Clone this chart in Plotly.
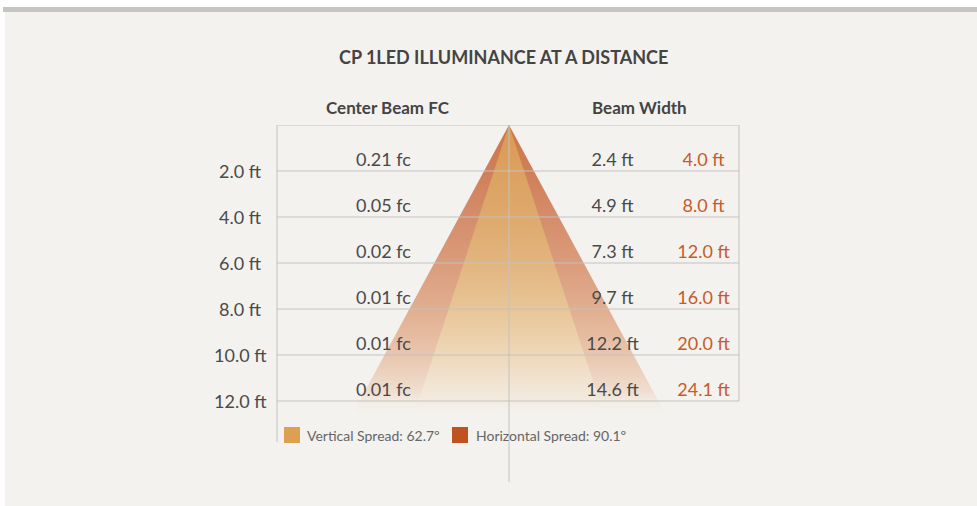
import plotly.graph_objects as go

# ---- data ----
distances_ft = [2, 4, 6, 8, 10, 12]
distance_labels = ["2.0 ft", "4.0 ft", "6.0 ft", "8.0 ft", "10.0 ft", "12.0 ft"]
center_beam_fc = [0.21, 0.05, 0.02, 0.01, 0.01, 0.01]
vertical_width_ft = [2.4, 4.9, 7.3, 9.7, 12.2, 14.6]
horizontal_width_ft = [4.0, 8.0, 12.0, 16.0, 20.0, 24.1]
vertical_spread_deg = 62.7
horizontal_spread_deg = 90.1
title_text = "CP 1LED ILLUMINANCE AT A DISTANCE"

# ---- layout constants ----
W, H = 977, 506
BG = "#f3f2ee"
GRID = "#c2c2c2"
TXT = "#4a4a4a"
ORANGE_TXT = "#c85a2a"
FONT = "Lato"

# pixel geometry helpers (paper coords)
def px(x):
    return x / W

def py(y):
    return (H - y) / H

k = 12.4  # px per ft of half beam width
x_left_px, x_center_px, x_right_px = 277, 509, 739
y_top_px, y_bottom_px = 125, 482
px_per_ft_y = 23.0

x_range = [-(x_center_px - x_left_px) / k, (x_right_px - x_center_px) / k]
y_range = [(y_bottom_px - y_top_px) / px_per_ft_y, 0]

D_end = 12.5  # cone fades out just past the last distance

fig = go.Figure()

def cone(widths, stops):
    half_per_ft = widths[-1] / distances_ft[-1] / 2
    hw = half_per_ft * D_end
    return go.Scatter(
        x=[0, -hw, hw, 0], y=[0, D_end, D_end, 0],
        mode="lines", line=dict(width=0), fill="toself",
        fillgradient=dict(type="vertical", colorscale=stops, start=0, stop=D_end),
        hoverinfo="skip", showlegend=False,
    )

outer_stops = [
    [0.0, "rgba(205,117,74,1)"],
    [0.16, "rgba(208,127,88,1)"],
    [0.32, "rgba(213,141,106,1)"],
    [0.48, "rgba(218,156,123,1)"],
    [0.64, "rgba(225,174,144,1)"],
    [0.80, "rgba(233,198,174,1)"],
    [0.93, "rgba(240,223,209,1)"],
    [1.0, "rgba(243,240,236,0.2)"],
]
inner_stops = [
    [0.0, "rgba(218,153,86,1)"],
    [0.16, "rgba(220,161,96,1)"],
    [0.32, "rgba(222,169,108,1)"],
    [0.48, "rgba(226,181,127,1)"],
    [0.64, "rgba(232,197,151,1)"],
    [0.80, "rgba(238,216,185,1)"],
    [0.93, "rgba(242,232,218,1)"],
    [1.0, "rgba(243,240,236,0.2)"],
]
fig.add_trace(cone(horizontal_width_ft, outer_stops))
fig.add_trace(cone(vertical_width_ft, inner_stops))

text_y = [d - 0.43 for d in distances_ft]
font_val = dict(family=FONT, size=18, color=TXT)
fig.add_trace(go.Scatter(
    x=[(383.5 - x_center_px) / k] * len(distances_ft), y=text_y, mode="text",
    text=[f"{v:.2f} fc" for v in center_beam_fc], textfont=font_val,
    textposition="middle center", hoverinfo="skip", showlegend=False))
fig.add_trace(go.Scatter(
    x=[(612.5 - x_center_px) / k] * len(distances_ft), y=text_y, mode="text",
    text=[f"{v:.1f} ft" for v in vertical_width_ft], textfont=font_val,
    textposition="middle center", hoverinfo="skip", showlegend=False))
fig.add_trace(go.Scatter(
    x=[(703.5 - x_center_px) / k] * len(distances_ft), y=text_y, mode="text",
    text=[f"{v:.1f} ft" for v in horizontal_width_ft],
    textfont=dict(family=FONT, size=18, color=ORANGE_TXT),
    textposition="middle center", hoverinfo="skip", showlegend=False))

shapes = []
# panel background and top band
shapes.append(dict(type="rect", xref="paper", yref="paper", x0=px(5), x1=1, y0=0, y1=py(12),
                   fillcolor=BG, line=dict(width=0), layer="below"))
shapes.append(dict(type="rect", xref="paper", yref="paper", x0=px(3), x1=1, y0=py(12), y1=py(7),
                   fillcolor="#c7c5c1", line=dict(width=0), layer="below"))
# horizontal lines (top + each distance)
for d in [0] + distances_ft:
    shapes.append(dict(type="line", xref="paper", yref="y", x0=px(x_left_px), x1=px(x_right_px),
                       y0=d, y1=d, line=dict(color=GRID, width=1), layer="above"))
# verticals
shapes.append(dict(type="line", xref="paper", yref="y", x0=px(x_left_px), x1=px(x_left_px),
                   y0=0, y1=(442 - y_top_px) / px_per_ft_y, line=dict(color=GRID, width=1), layer="above"))
shapes.append(dict(type="line", xref="paper", yref="y", x0=px(x_right_px), x1=px(x_right_px),
                   y0=0, y1=distances_ft[-1], line=dict(color=GRID, width=1), layer="above"))
shapes.append(dict(type="line", xref="x", yref="y", x0=0, x1=0,
                   y0=0, y1=y_range[0], line=dict(color=GRID, width=1), layer="above"))
# legend swatches
shapes.append(dict(type="rect", xref="paper", yref="paper", x0=px(284), x1=px(300), y0=py(443), y1=py(427),
                   fillcolor="#dca052", line=dict(width=0)))
shapes.append(dict(type="rect", xref="paper", yref="paper", x0=px(452), x1=px(468), y0=py(443), y1=py(427),
                   fillcolor="#c0521f", line=dict(width=0)))

annotations = []
annotations.append(dict(text=f"<b>{title_text}</b>", xref="paper", yref="paper", x=px(503), y=py(57),
                        showarrow=False, xanchor="center", yanchor="middle",
                        font=dict(family=FONT, size=18, color="#444444")))
annotations.append(dict(text="<b>Center Beam FC</b>", xref="paper", yref="paper", x=px(388), y=py(107),
                        showarrow=False, xanchor="center", yanchor="middle",
                        font=dict(family=FONT, size=17, color="#444444")))
annotations.append(dict(text="<b>Beam Width</b>", xref="paper", yref="paper", x=px(639), y=py(107),
                        showarrow=False, xanchor="center", yanchor="middle",
                        font=dict(family=FONT, size=17, color="#444444")))
for d, lab in zip(distances_ft, distance_labels):
    annotations.append(dict(text=lab, xref="paper", yref="y", x=px(240), y=d,
                            showarrow=False, xanchor="center", yanchor="middle",
                            font=dict(family=FONT, size=18, color=TXT)))
annotations.append(dict(text=f"Vertical Spread: {vertical_spread_deg}º", xref="paper", yref="paper",
                        x=px(305), y=py(435), showarrow=False, xanchor="left", yanchor="middle",
                        font=dict(family=FONT, size=14, color="#666666")))
annotations.append(dict(text=f"Horizontal Spread: {horizontal_spread_deg}º", xref="paper", yref="paper",
                        x=px(474), y=py(435), showarrow=False, xanchor="left", yanchor="middle",
                        font=dict(family=FONT, size=14, color="#666666")))

fig.update_layout(
    width=W, height=H, autosize=False,
    margin=dict(l=0, r=0, t=0, b=0),
    paper_bgcolor="white", plot_bgcolor="rgba(0,0,0,0)",
    xaxis=dict(domain=[px(x_left_px), px(x_right_px)], range=x_range, visible=False, fixedrange=True),
    yaxis=dict(domain=[py(y_bottom_px), py(y_top_px)], range=y_range, visible=False, fixedrange=True),
    shapes=shapes, annotations=annotations, showlegend=False,
)

fig.write_html(
    "out.html",
    config={"displayModeBar": False},
    post_script="document.body.style.margin='0';document.body.style.overflow='hidden';",
)
